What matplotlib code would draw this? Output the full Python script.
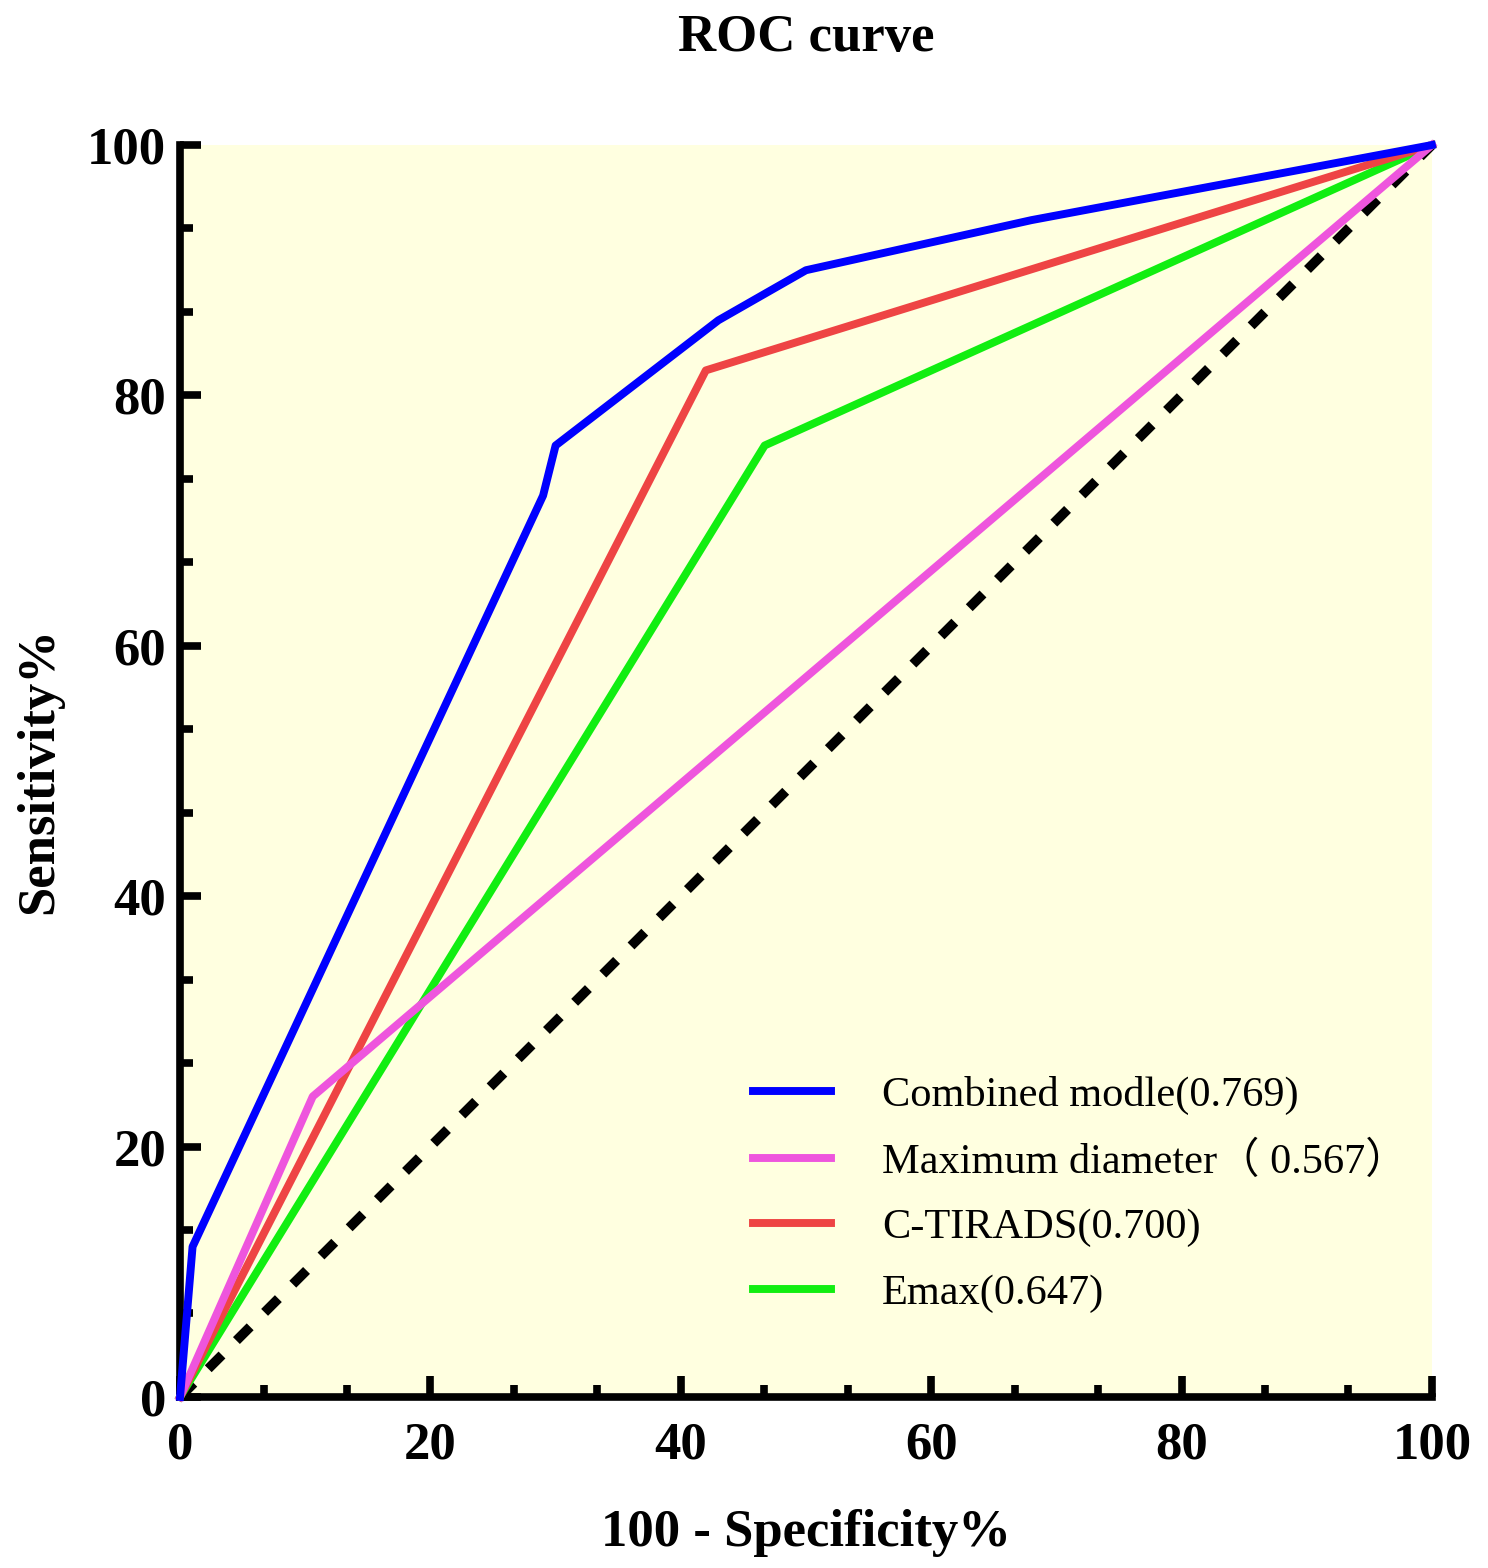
import matplotlib
matplotlib.use("Agg")
import matplotlib.pyplot as plt
from matplotlib.ticker import MultipleLocator
from matplotlib.lines import Line2D

# ROC points (100 - specificity %, sensitivity %)
comb_x = [0, 1, 29, 30, 43, 50, 68, 100]
comb_y = [0, 12, 72, 76, 86, 90, 94, 100]
diam_x = [0, 10.6, 100]
diam_y = [0, 24, 100]
tirads_x = [0, 42, 100]
tirads_y = [0, 82, 100]
emax_x = [0, 46.7, 100]
emax_y = [0, 76, 100]

labels = ["Combined modle(0.769)", "Maximum diameter\uff08 0.567\uff09",
          "C-TIRADS(0.700)", "Emax(0.647)"]
colors = ["#0000FF", "#EE55DD", "#EE4444", "#11EE11"]
ticks = [0, 20, 40, 60, 80, 100]

serif = ["Liberation Serif", "DejaVu Serif"]
plt.rcParams["font.family"] = serif

fig = plt.figure(figsize=(14.88, 15.68), dpi=100)
ax = fig.add_axes([0.121, 0.1091, 0.8413, 0.7984])
ax.set_facecolor("#FFFFE0")

lw = 5.7
ax.plot([0, 100], [0, 100], color="black", lw=7, dashes=(2.0, 2.1),
        solid_capstyle="butt", clip_on=False, zorder=2)
ax.plot(emax_x, emax_y, color=colors[3], lw=lw, clip_on=False, zorder=3)
ax.plot(tirads_x, tirads_y, color=colors[2], lw=lw, clip_on=False, zorder=4)
ax.plot(diam_x, diam_y, color=colors[1], lw=lw, clip_on=False, zorder=5)
ax.plot(comb_x, comb_y, color=colors[0], lw=lw, clip_on=False, zorder=6)

ax.set_xlim(0, 100)
ax.set_ylim(0, 100)
ax.set_xticks(ticks)
ax.set_yticks(ticks)
ax.xaxis.set_minor_locator(MultipleLocator(20 / 3))
ax.yaxis.set_minor_locator(MultipleLocator(20 / 3))

for s in ["top", "right"]:
    ax.spines[s].set_visible(False)
for s in ["left", "bottom"]:
    ax.spines[s].set_linewidth(5.5)

ax.tick_params(which="major", direction="in", length=15, width=5.5,
               labelsize=38)
ax.tick_params(which="minor", direction="in", length=9, width=5.5)
ax.tick_params(axis="x", which="major", pad=18)
ax.tick_params(axis="y", which="major", pad=10)
for t in ax.get_xticklabels() + ax.get_yticklabels():
    t.set_fontweight("bold")

ax.set_xlabel("100 - Specificity%", fontsize=38, fontweight="bold", labelpad=28)
ax.set_ylabel("Sensitivity%", fontsize=38, fontweight="bold", labelpad=17)
fig.text(0.542, 0.976, "ROC curve", fontsize=38, fontweight="bold",
         ha="center", va="center")

handles = [Line2D([], [], color=c, lw=lw) for c in colors]
ax.legend(handles, labels, loc="center left", bbox_to_anchor=(0.427, 0.162),
          frameon=False, handlelength=1.85, handletextpad=1.2,
          labelspacing=0.63,
          prop={"family": ["Liberation Serif", "Noto Sans CJK SC"], "size": 30.5})

fig.savefig("out.png", dpi=100)
